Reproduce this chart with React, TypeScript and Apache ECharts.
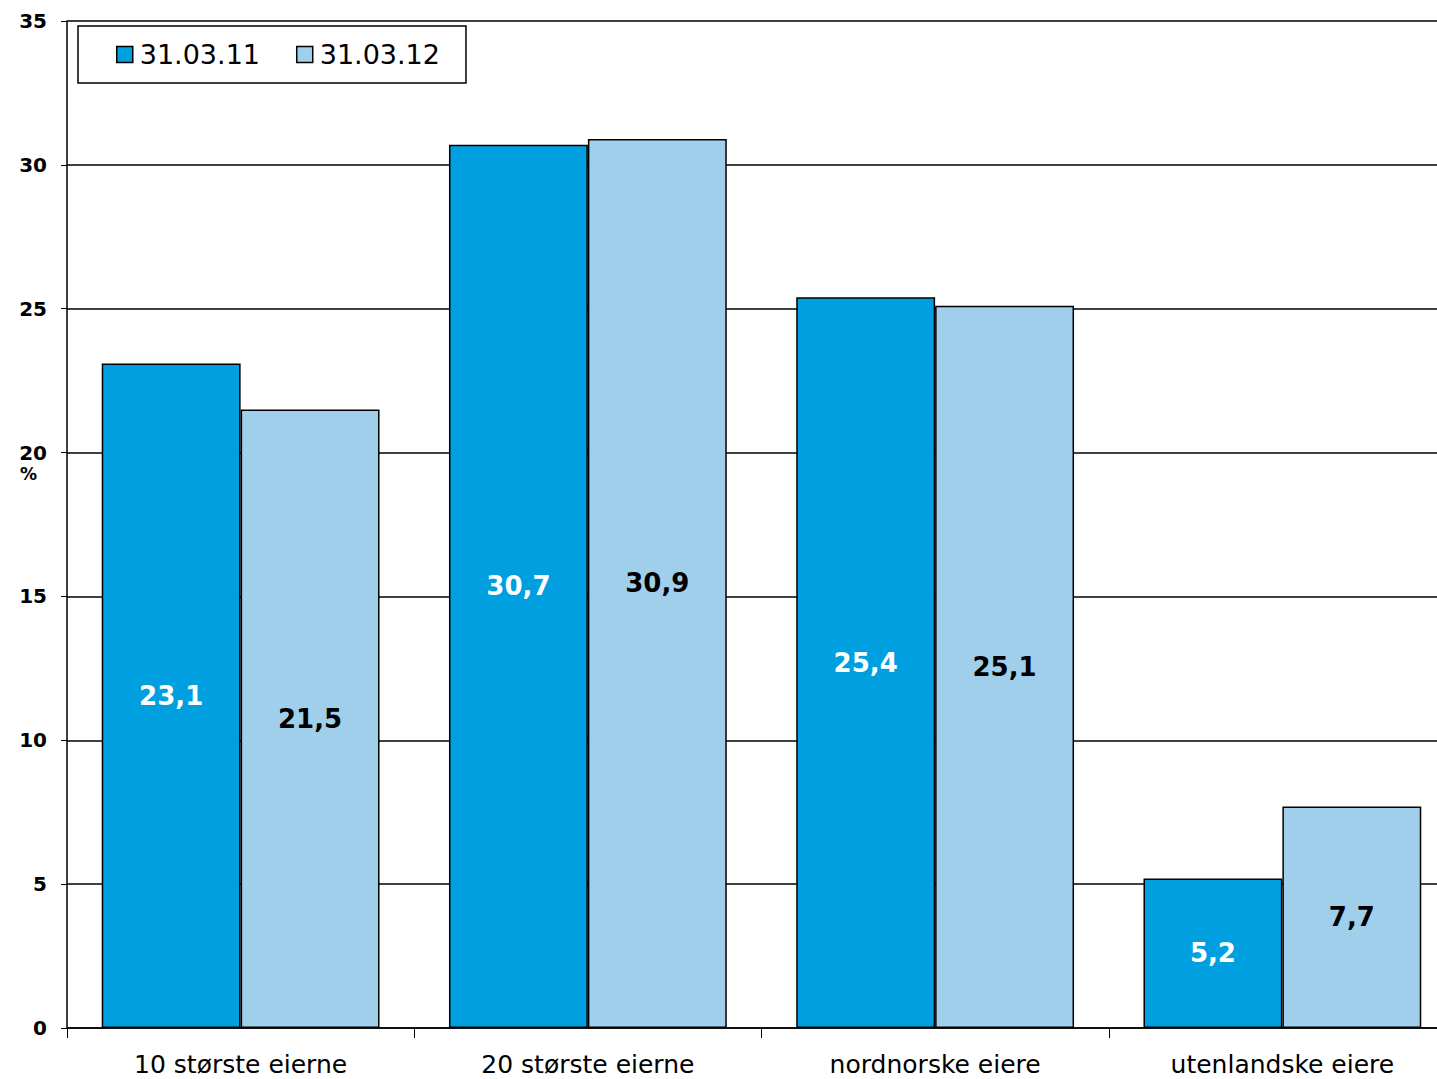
import { useEffect, useRef } from 'react';
import * as echarts from 'echarts';

const categories = ['10 største eierne', '20 største eierne', 'nordnorske eiere', 'utenlandske eiere'];
const series2011 = [23.1, 30.7, 25.4, 5.2];
const series2012 = [21.5, 30.9, 25.1, 7.7];
const seriesNames = ['31.03.11', '31.03.12'];

const FONT = 'DejaVu Sans, Verdana, sans-serif';

export default function App() {
  const ref = useRef<HTMLDivElement>(null);

  useEffect(() => {
    document.body.style.margin = '0';
    if (!ref.current) return;
    const chart = echarts.init(ref.current, undefined, { renderer: 'svg' });
    const label = (color: string) => ({
      show: true,
      position: 'inside',
      color,
      fontFamily: FONT,
      fontWeight: 'bold',
      fontSize: 26,
      formatter: (p: any) => String(p.value).replace('.', ','),
    });
    chart.setOption({
      animation: false,
      grid: { left: 67, right: -19, top: 21, bottom: 51, outerBoundsMode: 'none' },
      legend: {
        left: 78,
        top: 26,
        padding: [15, 26, 15, 38],
        itemGap: 36,
        itemWidth: 16,
        itemHeight: 16,
        icon: 'rect',
        borderColor: '#000',
        borderWidth: 1.5,
        textStyle: { fontFamily: FONT, fontSize: 27, color: '#000', padding: [0, 0, 0, 2] },
        data: seriesNames.map((n) => ({ name: n, itemStyle: { borderColor: '#000', borderWidth: 1.5 } })),
      },
      graphic: [
        {
          type: 'text',
          left: 20,
          top: 465,
          style: { text: '%', fontFamily: FONT, fontWeight: 'bold', fontSize: 17, fill: '#000' },
        },
      ],
      xAxis: {
        type: 'category',
        data: categories,
        axisLine: { lineStyle: { color: '#000', width: 1.5 } },
        axisTick: { show: true, length: 10, lineStyle: { color: '#000' } },
        axisLabel: { fontFamily: FONT, fontSize: 25, color: '#000', margin: 24 },
      },
      yAxis: {
        type: 'value',
        min: 0,
        max: 35,
        interval: 5,
        axisLine: { show: true, lineStyle: { color: '#000', width: 1.5 } },
        axisTick: { show: true, length: 6, lineStyle: { color: '#000' } },
        axisLabel: { fontFamily: FONT, fontWeight: 'bold', fontSize: 20, color: '#000', margin: 20 },
        splitLine: { lineStyle: { color: '#000', width: 1.5 } },
      },
      series: [
        {
          name: seriesNames[0],
          type: 'bar',
          data: series2011,
          barGap: '0%',
          barCategoryGap: '20%',
          itemStyle: { color: '#00A0E0', borderColor: '#000', borderWidth: 1.5 },
          label: label('#fff'),
        },
        {
          name: seriesNames[1],
          type: 'bar',
          data: series2012,
          itemStyle: { color: '#A0CFEB', borderColor: '#000', borderWidth: 1.5 },
          label: label('#000'),
        },
      ],
    });
    return () => chart.dispose();
  }, []);

  return <div ref={ref} style={{ width: 1437, height: 1079 }} />;
}
